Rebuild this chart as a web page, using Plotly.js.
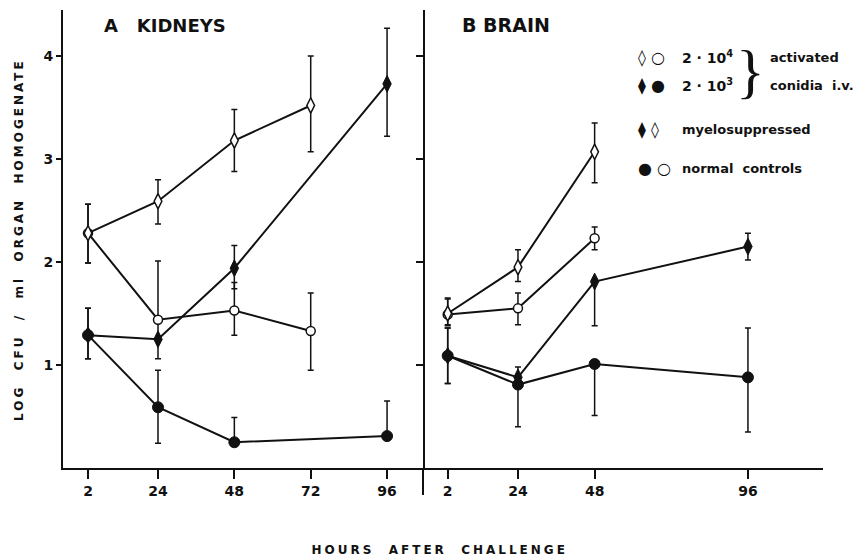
<!DOCTYPE html>
<html>
<head>
<meta charset="utf-8">
<script src="https://cdn.plot.ly/plotly-3.0.1.min.js"></script>
<style>
  html, body { margin: 0; padding: 0; background: #fff; }
  #chart { width: 868px; height: 560px; }
  .annotation[data-index="0"] text { letter-spacing: 3px; }
  .annotation[data-index="1"] text { letter-spacing: 3px; }
</style>
</head>
<body>
<div id="chart"></div>
<script>
// ---------- DATA ----------
// Panel A: Kidneys
const kidHoursMs4 = [2, 24, 48, 72];
const kidMs4 = [2.28, 2.59, 3.18, 3.52];
const kidMs4Plus = [0.28, 0.21, 0.30, 0.48];
const kidMs4Minus = [0.29, 0.22, 0.30, 0.45];

const kidHoursNc4 = [2, 24, 48, 72];
const kidNc4 = [2.28, 1.44, 1.53, 1.33];
const kidNc4Plus = [0.28, 0.57, 0.27, 0.37];
const kidNc4Minus = [0.29, 0, 0.24, 0.38];

const kidHoursMs3 = [2, 24, 48, 96];
const kidMs3 = [1.29, 1.25, 1.94, 3.73];
const kidMs3Plus = [0.26, 0.20, 0.22, 0.54];
const kidMs3Minus = [0.23, 0.19, 0.20, 0.51];

const kidHoursNc3 = [2, 24, 48, 96];
const kidNc3 = [1.29, 0.59, 0.25, 0.31];
const kidNc3Plus = [0.26, 0.36, 0.24, 0.34];
const kidNc3Minus = [0.23, 0.35, 0, 0];

// Panel B: Brain
const brHoursMs4 = [2, 24, 48];
const brMs4 = [1.50, 1.95, 3.07];
const brMs4Plus = [0.15, 0.17, 0.28];
const brMs4Minus = [0.11, 0.14, 0.30];

const brHoursNc4 = [2, 24, 48];
const brNc4 = [1.49, 1.55, 2.23];
const brNc4Plus = [0.15, 0.15, 0.11];
const brNc4Minus = [0.11, 0.16, 0.11];

const brHoursMs3 = [2, 24, 48, 96];
const brMs3 = [1.09, 0.88, 1.81, 2.15];
const brMs3Plus = [0.27, 0.10, 0, 0.13];
const brMs3Minus = [0.27, 0.10, 0.43, 0.13];

const brHoursNc3 = [2, 24, 48, 96];
const brNc3 = [1.09, 0.81, 1.01, 0.88];
const brNc3Plus = [0.27, 0, 0, 0.48];
const brNc3Minus = [0.27, 0.41, 0.50, 0.53];

const kidTicks = [2, 24, 48, 72, 96];
const brTicks = [2, 24, 48, 96];
const yTicks = [1, 2, 3, 4];

const panelA = "A\u00A0\u00A0\u00A0KIDNEYS";
const panelB = "B\u00A0BRAIN";
const yTitle = "LOG\u00A0\u00A0CFU\u00A0\u00A0/\u00A0\u00A0ml\u00A0\u00A0ORGAN\u00A0\u00A0HOMOGENATE";
const xTitle = "HOURS\u00A0\u00A0AFTER\u00A0\u00A0CHALLENGE";

// ---------- STYLES ----------
const BLACK = "#111";
const FONT = "DejaVu Sans";
const styles = {
  ms4: { symbol: "diamond-tall", size: 11, color: "#fff", line: { color: BLACK, width: 1.5 } },
  nc4: { symbol: "circle", size: 9, color: "#fff", line: { color: BLACK, width: 1.5 } },
  ms3: { symbol: "diamond-tall", size: 12, color: BLACK, line: { color: BLACK, width: 1 } },
  nc3: { symbol: "circle", size: 11, color: BLACK, line: { color: BLACK, width: 1 } }
};

function series(x, y, plus, minus, st, xa) {
  return {
    type: "scatter", mode: "lines+markers", x: x, y: y,
    xaxis: xa, yaxis: "y",
    line: { color: BLACK, width: 2 },
    marker: st,
    error_y: { type: "data", symmetric: false, array: plus, arrayminus: minus,
               color: BLACK, thickness: 1.5, width: 3 },
    showlegend: false, hoverinfo: "x+y"
  };
}

const data = [
  series(kidHoursMs3, kidMs3, kidMs3Plus, kidMs3Minus, styles.ms3, "x"),
  series(kidHoursNc3, kidNc3, kidNc3Plus, kidNc3Minus, styles.nc3, "x"),
  series(kidHoursNc4, kidNc4, kidNc4Plus, kidNc4Minus, styles.nc4, "x"),
  series(kidHoursMs4, kidMs4, kidMs4Plus, kidMs4Minus, styles.ms4, "x"),
  series(brHoursMs3, brMs3, brMs3Plus, brMs3Minus, styles.ms3, "x2"),
  series(brHoursNc3, brNc3, brNc3Plus, brNc3Minus, styles.nc3, "x2"),
  series(brHoursNc4, brNc4, brNc4Plus, brNc4Minus, styles.nc4, "x2"),
  series(brHoursMs4, brMs4, brMs4Plus, brMs4Minus, styles.ms4, "x2")
];

const split = 0.4737;
const yRange = [0, 4.447];
const tickFont = { family: FONT, size: 14, color: BLACK, weight: "bold" };

function ann(text, x, y, size, extra) {
  return Object.assign({
    text: text, xref: "paper", yref: "paper", x: x, y: y,
    showarrow: false, xanchor: "left", yanchor: "middle",
    font: { family: FONT, size: size, color: BLACK, weight: "bold" }
  }, extra || {});
}

const symFont = { family: FONT, size: 16, color: BLACK };

const layout = {
  width: 868, height: 560,
  margin: { l: 63, r: 45, t: 10, b: 92 },
  paper_bgcolor: "#fff", plot_bgcolor: "rgba(0,0,0,0)",
  showlegend: false,
  xaxis: {
    domain: [0, split], range: [-5.86, 107.3], anchor: "y",
    tickvals: kidTicks, ticktext: kidTicks.map(String),
    ticks: "outside", ticklen: 9, tickwidth: 2, tickcolor: BLACK,
    showline: true, linewidth: 2, linecolor: BLACK,
    showgrid: false, zeroline: false, tickfont: tickFont
  },
  xaxis2: {
    domain: [split, 1], range: [-5.73, 119.5], anchor: "y",
    tickvals: brTicks, ticktext: brTicks.map(String),
    ticks: "outside", ticklen: 9, tickwidth: 2, tickcolor: BLACK,
    showline: true, linewidth: 2, linecolor: BLACK,
    showgrid: false, zeroline: false, tickfont: tickFont
  },
  yaxis: {
    domain: [0, 1], range: yRange, anchor: "x",
    tickvals: yTicks, ticktext: yTicks.map(String),
    ticks: "outside", ticklen: 5, tickwidth: 2, tickcolor: BLACK,
    showline: true, linewidth: 2, linecolor: BLACK,
    showgrid: false, zeroline: false, tickfont: tickFont
  },
  yaxis3: {
    overlaying: "y", side: "right", anchor: "x", range: yRange,
    tickvals: yTicks, showticklabels: false,
    ticks: "inside", ticklen: 7, tickwidth: 2, tickcolor: BLACK,
    showline: true, linewidth: 2, linecolor: BLACK,
    showgrid: false, zeroline: false
  },
  shapes: [
    { type: "line", xref: "paper", yref: "paper", x0: split, x1: split, y0: -0.059, y1: 0,
      line: { color: BLACK, width: 2 } }
  ],
  annotations: [
    ann(yTitle, -0.058, 0.5, 12, { textangle: -90, xanchor: "center" }),
    ann(xTitle, 0.496, -0.179, 12, { xanchor: "center" }),
    ann(panelA, 0.051, 0.967, 18),
    ann(panelB, 0.522, 0.967, 19),
    // legend
    ann("\u25CA\u00A0\u25CB", 0.754, 0.897, 16, { font: symFont }),
    ann("\u29EB\u00A0\u25CF", 0.754, 0.836, 16, { font: symFont }),
    ann("\u29EB\u00A0\u25CA", 0.754, 0.738, 16, { font: symFont }),
    ann("\u25CF\u00A0\u25CB", 0.754, 0.655, 16, { font: symFont }),
    ann("2 \u00B7 10<sup>4</sup>", 0.812, 0.897, 14),
    ann("2 \u00B7 10<sup>3</sup>", 0.812, 0.836, 14),
    ann("}", 0.904, 0.867, 60, { xanchor: "center",
      font: { family: "Liberation Serif", size: 60, color: BLACK } }),
    ann("activated", 0.928, 0.897, 13),
    ann("conidia\u00A0\u00A0i.v.", 0.928, 0.836, 13),
    ann("myelosuppressed", 0.812, 0.738, 13),
    ann("normal\u00A0\u00A0controls", 0.812, 0.655, 13)
  ]
};

// empty trace so that the mirrored axis yaxis3 is drawn (no visible marks)
data.push({ type: "scatter", x: [], y: [], xaxis: "x", yaxis: "y3", showlegend: false, hoverinfo: "skip" });

Plotly.newPlot("chart", data, layout, { staticPlot: true, displayModeBar: false });
</script>
</body>
</html>
